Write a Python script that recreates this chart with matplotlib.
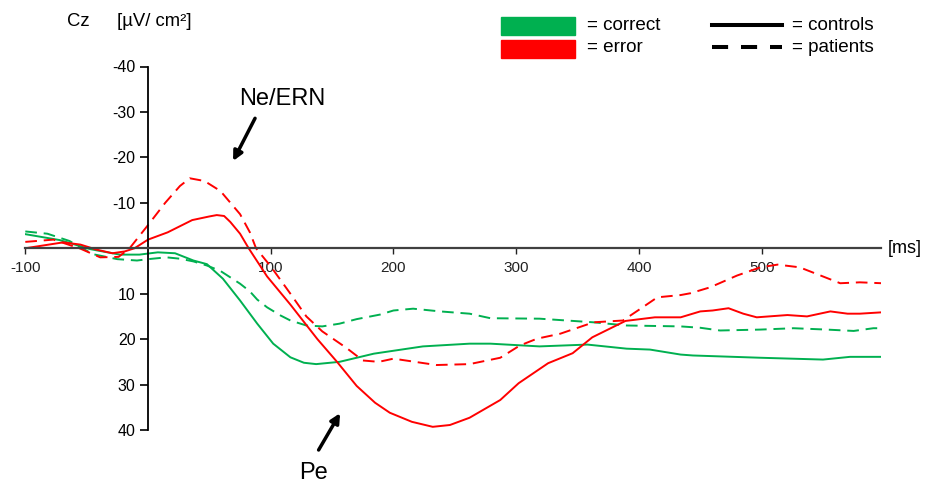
import numpy as np
import matplotlib.pyplot as plt
from matplotlib.patches import Rectangle
from matplotlib.lines import Line2D

plt.rcParams['font.family'] = ['Liberation Sans', 'DejaVu Sans']

# Tiempos (ms) y amplitudes (µV/cm²), Cz
t_err_ctrl = [-100, -69, -55, -42, -29, -19, -11, 0, 16, 36, 50, 56, 62, 67, 75, 82, 97, 116, 138, 154,
              170, 185, 197, 215, 232, 246, 262, 287, 302, 326, 346, 362, 389, 413, 434, 450, 460, 473,
              485, 496, 521, 537, 556, 570, 580, 598]
v_err_ctrl = [0, -1.3, -0.8, 0.3, 1.1, 0.7, 0, -1.9, -3.5, -6.2, -7.0, -7.3, -7.1, -5.8, -3.2, 0, 6.2,
              12.4, 20, 25, 30.3, 34.0, 36.2, 38.2, 39.3, 38.9, 37.3, 33.4, 29.7, 25.3, 23.1, 19.6, 16,
              15.2, 15.2, 13.9, 13.7, 13.2, 14.4, 15.2, 14.7, 15, 13.9, 14.4, 14.4, 14.1]

t_err_pat = [-100, -77, -55, -39, -24, -15, 0, 14, 26, 34, 46, 59, 75, 83, 88, 100, 116, 129, 142,
             162, 175, 188, 200, 235, 262, 287, 303, 317, 336, 363, 387, 403, 415, 434, 442, 458, 480,
             499, 513, 531, 548, 564, 580, 598]
v_err_pat = [-1.4, -1.9, 0.1, 2.0, 1.9, 0, -5.1, -10, -13.7, -15.4, -14.8, -12.6, -7.5, -3.5, 0, 4,
             10, 15, 18.3, 22, 24.7, 25, 24.3, 25.7, 25.5, 24.1, 21.4, 19.9, 18.8, 16.3, 15.9, 13,
             10.8, 10.3, 9.9, 8.6, 6.0, 4.2, 3.6, 4.2, 6, 7.7, 7.5, 7.7]

t_cor_ctrl = [-100, -72, -47, -23, -7, 8, 22, 37, 48, 61, 75, 89, 102, 116, 127, 137, 156, 184, 224,
              262, 279, 319, 358, 390, 409, 434, 444, 499, 550, 572, 598]
v_cor_ctrl = [-3.1, -1.8, 0.2, 1.4, 1.4, 0.9, 1.1, 2.7, 3.5, 6.7, 11.5, 16.6, 21, 24, 25.2, 25.5, 25,
              23.2, 21.6, 21, 21, 21.6, 21.2, 22.1, 22.3, 23.4, 23.6, 24.1, 24.5, 23.9, 23.9]

t_cor_pat = [-100, -82, -64, -45, -25, -9, 0, 15, 26, 37, 48, 59, 67, 75, 83, 89, 97, 108, 116, 129,
             142, 156, 170, 189, 200, 216, 238, 262, 279, 319, 363, 390, 434, 450, 466, 499, 526, 553,
             575, 591, 598]
v_cor_pat = [-3.7, -3.2, -1.6, 1.3, 2.4, 2.7, 2.4, 2.0, 2.3, 2.9, 3.8, 5.0, 6.4, 7.8, 9.5, 11.3, 13,
             14.8, 15.9, 17.0, 17.2, 16.6, 15.6, 14.6, 13.7, 13.3, 13.9, 14.4, 15.4, 15.5, 16.3, 17,
             17.2, 17.5, 18.1, 17.9, 17.6, 17.9, 18.2, 17.6, 17.6]

xticks = [-100, 100, 200, 300, 400, 500]
yticks = [-40, -30, -20, -10, 10, 20, 30, 40]

verde = '#00B050'
rojo = '#FF0000'
W, H = 925, 483

fig = plt.figure(figsize=(W / 100, H / 100), dpi=100)
ax = fig.add_axes([25.3 / W, 1 - 430 / H, (880.7 - 25.3) / W, (430 - 66.5) / H])
ax.set_xlim(-100, 597)
ax.set_ylim(40, -40)

dash = (0, (6, 3.5))
ax.plot(t_cor_ctrl, v_cor_ctrl, color=verde, lw=1.4)
ax.plot(t_cor_pat, v_cor_pat, color=verde, lw=1.4, linestyle=dash)
ax.plot(t_err_ctrl, v_err_ctrl, color=rojo, lw=1.4)
ax.plot(t_err_pat, v_err_pat, color=rojo, lw=1.4, linestyle=dash)

# Ejes cruzados en (0, 0)
for s in ['top', 'right']:
    ax.spines[s].set_visible(False)
ax.spines['left'].set_position(('data', 0))
ax.spines['bottom'].set_position(('data', 0))
ax.spines['left'].set_linewidth(1.3)
ax.spines['bottom'].set_linewidth(1.6)
ax.spines['bottom'].set_color('#404040')
ax.set_xticks(xticks)
ax.set_yticks(yticks)
ax.set_xticklabels([str(v) for v in xticks])
ax.set_yticklabels([str(v) for v in yticks])
ax.tick_params(axis='x', length=4, width=1, pad=5, labelsize=11, colors='#222222')
ax.tick_params(axis='y', length=6, width=1.2, pad=3, labelsize=11.5)
ax.set_zorder(1)
ax.patch.set_alpha(0)

# Anotaciones
flecha = dict(arrowstyle='-|>', color='black', lw=2.5, mutation_scale=14,
              shrinkA=0, shrinkB=0)
ax.annotate('', xy=(69.3, -19.2), xytext=(87.2, -28.6), arrowprops=flecha)
ax.text(109, -32.8, 'Ne/ERN', fontsize=17, ha='center', va='center')
ax.annotate('', xy=(156.5, 36.3), xytext=(139, 44.4), arrowprops=flecha, annotation_clip=False)
ax.text(134.5, 49.4, 'Pe', fontsize=17, ha='center', va='center', clip_on=False)
ax.text(603, 0, '[ms]', fontsize=13, ha='left', va='center', clip_on=False)

fig.text(67 / W, 1 - 22 / H, 'Cz', fontsize=13.3, ha='left', va='center')
fig.text(117 / W, 1 - 22 / H, '[µV/ cm²]', fontsize=13.3, ha='left', va='center')

# Leyenda manual
fig.add_artist(Rectangle((501 / W, 1 - 35 / H), 74 / W, 17.5 / H,
                         transform=fig.transFigure, color=verde))
fig.add_artist(Rectangle((501 / W, 1 - 57.7 / H), 74 / W, 17.7 / H,
                         transform=fig.transFigure, color=rojo))
fig.text(587 / W, 1 - 26 / H, '= correct', fontsize=13.6, ha='left', va='center')
fig.text(587 / W, 1 - 47 / H, '= error', fontsize=13.6, ha='left', va='center')
fig.add_artist(Line2D([712 / W, 782 / W], [1 - 25.3 / H, 1 - 25.3 / H],
                      transform=fig.transFigure, color='black', lw=2.9))
fig.add_artist(Line2D([712 / W, 782 / W], [1 - 46.7 / H, 1 - 46.7 / H],
                      transform=fig.transFigure, color='black', lw=2.9,
                      linestyle=(0, (4, 3.2)), solid_capstyle='butt'))
fig.text(792 / W, 1 - 26 / H, '= controls', fontsize=13.6, ha='left', va='center')
fig.text(792 / W, 1 - 47 / H, '= patients', fontsize=13.6, ha='left', va='center')

fig.savefig('out.png', dpi=100)
